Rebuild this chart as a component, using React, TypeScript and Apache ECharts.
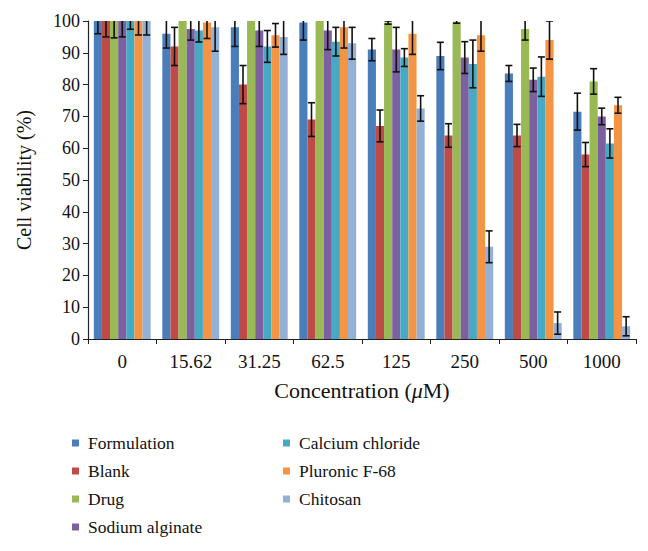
import React, { useEffect, useRef } from "react";
import * as echarts from "echarts";

const categories = ["0", "15.62", "31.25", "62.5", "125", "250", "500", "1000"];
const seriesNames = ["Formulation", "Blank", "Drug", "Sodium alginate", "Calcium chloride", "Pluronic F-68", "Chitosan"];
const formulation = [100, 96, 98, 99.5, 91, 89, 83.5, 71.5];
const formulationErr = [4, 4.5, 6, 5.5, 3.5, 4.3, 2.5, 5.8];
const blank = [100, 92, 80, 69, 67, 64, 64, 58];
const blankErr = [5, 6, 6, 5.3, 5, 3.7, 3.5, 3.8];
const drug = [100, 100, 100, 100, 99.5, 99.8, 97.5, 81];
const drugErr = [5.3, 0, 0, 0, 0.5, 0.5, 3.5, 4];
const sodiumAlginate = [100, 97.5, 97, 97, 91, 88.5, 81.5, 70];
const sodiumAlginateErr = [5, 3.5, 5, 6, 7, 5, 3.7, 2.6];
const calciumChloride = [100, 97, 92, 93.5, 88.5, 86.5, 82.5, 61.5];
const calciumChlorideErr = [2.6, 3.6, 5, 4.5, 2.8, 7.5, 6.2, 4.6];
const pluronic = [100, 99.5, 95.5, 98, 96, 95.5, 94, 73.5];
const pluronicErr = [4.4, 5, 3.7, 6.5, 6.5, 5, 6, 2.5];
const chitosan = [100, 98, 95, 93, 72.5, 29, 5, 4];
const chitosanErr = [4.4, 7.5, 5.5, 5, 4, 5, 3.5, 3];

const values = [formulation, blank, drug, sodiumAlginate, calciumChloride, pluronic, chitosan];
const errors = [formulationErr, blankErr, drugErr, sodiumAlginateErr, calciumChlorideErr, pluronicErr, chitosanErr];
const colors = ["#4A7EBB", "#BE4B48", "#98B954", "#7D60A0", "#46AAC5", "#F59443", "#93B1D6"];

const FONT = "'Liberation Serif', serif";
const CAT_GAP = 0.17;

export default function App() {
  const ref = useRef<HTMLDivElement>(null);
  useEffect(() => {
    if (!ref.current) return;
    const chart = echarts.init(ref.current, null, { renderer: "svg" });
    const n = seriesNames.length;
    const barSeries = seriesNames.map((name, i) => ({
      type: "bar",
      name,
      data: values[i],
      barGap: "0%",
      barCategoryGap: CAT_GAP * 100 + "%",
      itemStyle: { color: colors[i] },
      z: 2,
    }));
    const errSeries = seriesNames.map((name, i) => ({
      type: "custom",
      name: name + "-err",
      clip: true,
      z: 5,
      data: values[i].map((v, j) => [j, v, errors[i][j]]),
      renderItem: (params: any, api: any) => {
        const c = api.value(0);
        const v = api.value(1);
        const e = api.value(2);
        if (!e) return { type: "group", children: [] };
        const band = api.size([1, 0])[0];
        const total = band * (1 - CAT_GAP);
        const w = total / n;
        const center = api.coord([c, v]);
        const x = center[0] - total / 2 + w * (i + 0.5);
        const top = api.coord([c, v + e])[1];
        const bot = api.coord([c, v - e])[1];
        const cap = 3.5;
        const style = { stroke: "#111", lineWidth: 1.6 };
        return {
          type: "group",
          children: [
            { type: "line", shape: { x1: x, y1: top, x2: x, y2: bot }, style },
            { type: "line", shape: { x1: x - cap, y1: top, x2: x + cap, y2: top }, style },
            { type: "line", shape: { x1: x - cap, y1: bot, x2: x + cap, y2: bot }, style },
          ],
        };
      },
    }));
    const legendCommon = {
      orient: "vertical",
      icon: "rect",
      itemWidth: 7,
      itemHeight: 7,
      itemGap: 10,
      textStyle: { fontFamily: FONT, fontSize: 17.5, color: "#111", padding: [0, 0, 0, 4] },
    };
    chart.setOption({
      animation: false,
      textStyle: { fontFamily: FONT },
      grid: { left: 88, right: 12, top: 21, bottom: 212, containLabel: false },
      legend: [
        { ...legendCommon, left: 67, top: 429, data: seriesNames.slice(0, 4) },
        { ...legendCommon, left: 278, top: 429, data: seriesNames.slice(4) },
      ],
      xAxis: {
        type: "category",
        data: categories,
        name: "Concentration ({i|μ}M)",
        nameLocation: "middle",
        nameGap: 40,
        nameTextStyle: {
          fontFamily: FONT,
          fontSize: 22,
          color: "#111",
          rich: { i: { fontFamily: FONT, fontSize: 22, fontStyle: "italic", color: "#111" } },
        },
        axisLine: { lineStyle: { color: "#222", width: 1.2 } },
        axisTick: { show: true, length: 5, lineStyle: { color: "#222" } },
        axisLabel: { fontFamily: FONT, fontSize: 19, color: "#111", margin: 13 },
      },
      yAxis: {
        type: "value",
        min: 0,
        max: 100,
        interval: 10,
        name: "Cell viability (%)",
        nameLocation: "middle",
        nameGap: 54,
        nameTextStyle: { fontFamily: FONT, fontSize: 20, color: "#111" },
        splitLine: { show: false },
        axisLine: { show: true, lineStyle: { color: "#222", width: 1.2 } },
        axisTick: { show: true, length: 5, lineStyle: { color: "#222" } },
        axisLabel: { fontFamily: FONT, fontSize: 18, color: "#111", margin: 8 },
      },
      series: [...barSeries, ...errSeries],
    });
    return () => chart.dispose();
  }, []);
  return <div ref={ref} style={{ position: "absolute", left: 0, top: 0, width: 648, height: 551 }} />;
}
